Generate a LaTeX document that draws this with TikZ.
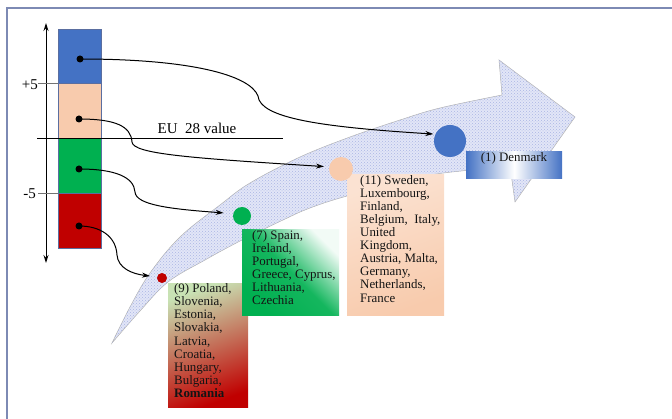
\documentclass[tikz,border=0pt]{standalone}
\usepackage{fontspec}
\setmainfont{Liberation Serif}
\usetikzlibrary{arrows.meta,patterns,shadings}
\definecolor{dblue}{RGB}{68,114,196}
\definecolor{peach}{RGB}{248,203,173}
\definecolor{pgreen}{RGB}{0,176,80}
\definecolor{pred}{RGB}{192,0,0}
\definecolor{lav}{RGB}{226,230,247}
\definecolor{lavdot}{RGB}{170,181,228}
\definecolor{framec}{RGB}{125,138,180}
\definecolor{colborder}{RGB}{90,110,160}
\definecolor{lgreen}{RGB}{200,226,180}
\definecolor{txtc}{RGB}{20,20,20}
\begin{document}
\begin{tikzpicture}[x=1pt,y=-1pt,
  colbox/.style={rectangle,draw=colborder,line width=0.6pt,minimum width=43pt,minimum height=55pt,inner sep=0pt,anchor=north west},
  sdot/.style={circle,fill=black,minimum size=7pt,inner sep=0pt},
  tdot/.style={circle,inner sep=0pt},
  conn/.style={line width=1pt,-{Stealth[length=8pt,width=5pt]}},
  cbox/.style={rectangle,inner sep=0pt,anchor=north west},
  tx/.style={align=left,inner sep=0pt,anchor=north west,text=txtc,font=\fontsize{12.9}{13.1}\selectfont},
  lab/.style={inner sep=0pt,font=\fontsize{15}{17}\selectfont}]
\useasboundingbox (0,0) rectangle (672,419);
% frame
\draw[framec,line width=1.2pt] (7,419) |- (672,8);
% band arrow
\path[fill=lav,draw=black!30,line width=0.5pt,postaction={pattern=crosshatch dots,pattern color=lavdot}]
  plot[smooth,tension=0.6] coordinates {(112,343) (130,307) (150,273) (180,237) (220,205) (250,183) (300,157) (350,137) (400,120) (440,108) (502,95)}
  -- (499,60) -- (575,117) -- (515,202) --
  plot[smooth,tension=0.6] coordinates {(510,166) (470,170) (420,177) (347,196) (310,208) (283,220) (242,240) (205,260) (168,282) (140,311) (112,343)}
  -- cycle;
% axis
\coordinate (axtop) at (46,23);
\coordinate (axbot) at (46,263);
\draw[line width=1pt,{Stealth[length=8pt,width=5pt]}-{Stealth[length=8pt,width=5pt]}] (axtop) -- (axbot);
% column boxes
\node[colbox,fill=dblue,minimum height=54pt] (kb) at (58,29) {};
\node[colbox,fill=peach] (kp) at (58,83) {};
\node[colbox,fill=pgreen] (kg) at (58,138) {};
\node[colbox,fill=pred] (kr) at (58,193) {};
% ticks and labels
\coordinate (t1a) at (38,83); \coordinate (t1b) at (58,83);
\coordinate (t2a) at (38,193); \coordinate (t2b) at (58,193);
\draw[black!55,line width=0.8pt] (t1a) -- (t1b);
\draw[black!55,line width=0.8pt] (t2a) -- (t2b);
\node[lab,anchor=east] (plus5) at (38,85) {+5};
\node[lab,anchor=east] (minus5) at (36,194) {-5};
\coordinate (eua) at (37,138); \coordinate (eub) at (283,138);
\draw[black,line width=0.9pt] (eua) -- (eub);
\node[lab] (eu) at (197,128) {EU~~28 value};
% start dots
\node[sdot] (s1) at (80,59) {};
\node[sdot] (s2) at (79,119) {};
\node[sdot] (s3) at (79,169) {};
\node[sdot] (s4) at (79,226) {};
% boxes
\node[cbox,minimum width=80pt,minimum height=124pt,top color=lgreen,bottom color=pred,shading angle=20] (b9) at (168,283) {};
\node[cbox,minimum width=97pt,minimum height=86pt,top color=pgreen!5!white,bottom color=pgreen,middle color=pgreen!92!white,shading angle=-45] (b7) at (242,229) {};
\node[cbox,minimum width=97pt,minimum height=141pt,top color=peach!55!white,bottom color=peach,shading angle=20] (b11) at (347,174) {};
\node[cbox,minimum width=96pt,minimum height=27pt,left color=dblue,right color=dblue,middle color=white] (b1) at (466,151) {};
% target circles
\node[tdot,fill=dblue,minimum size=32pt] (c1) at (450,141) {};
\node[tdot,fill=peach,minimum size=24pt] (c2) at (341,169) {};
\node[tdot,fill=pgreen,minimum size=18pt] (c3) at (242,216) {};
\node[tdot,fill=pred,minimum size=10pt] (c4) at (162,278) {};
% texts
\node[tx] (t9) at ([xshift=6pt,yshift=-0.5pt]b9.north west) {(9) Poland,\\Slovenia,\\Estonia,\\Slovakia,\\Latvia,\\Croatia,\\Hungary,\\Bulgaria,\\\textbf{Romania}};
\node[tx] (t7) at ([xshift=10pt,yshift=-1pt]b7.north west) {(7) Spain,\\Ireland,\\Portugal,\\Greece, Cyprus,\\Lithuania,\\Czechia};
\node[tx] (t11) at ([xshift=13pt,yshift=-1pt]b11.north west) {(11) Sweden,\\Luxembourg,\\Finland,\\Belgium,~ Italy,\\United\\Kingdom,\\Austria, Malta,\\Germany,\\Netherlands,\\France};
\node[inner sep=0pt,text=txtc,font=\fontsize{12.9}{14}\selectfont] (t1) at (514,158) {(1) Denmark};
% connectors
\draw[conn,shorten >=2pt] (s1.center) .. controls (190,59) and (250,75) .. (258,96) .. controls (260,118) and (320,127) .. (c1.155);
\draw[conn,shorten >=5pt] (s2.center) .. controls (115,119) and (131,126) .. (132,142) .. controls (133,154) and (190,158) .. (c2.170);
\draw[conn,shorten >=9.5pt] (s3.center) .. controls (115,169) and (134,177) .. (135,192) .. controls (136,205) and (170,209) .. (c3.165);
\draw[conn,shorten >=7pt] (s4.center) .. controls (100,226) and (116,236) .. (117,255) .. controls (118,268) and (132,274) .. (c4.166);
\end{tikzpicture}
\end{document}
